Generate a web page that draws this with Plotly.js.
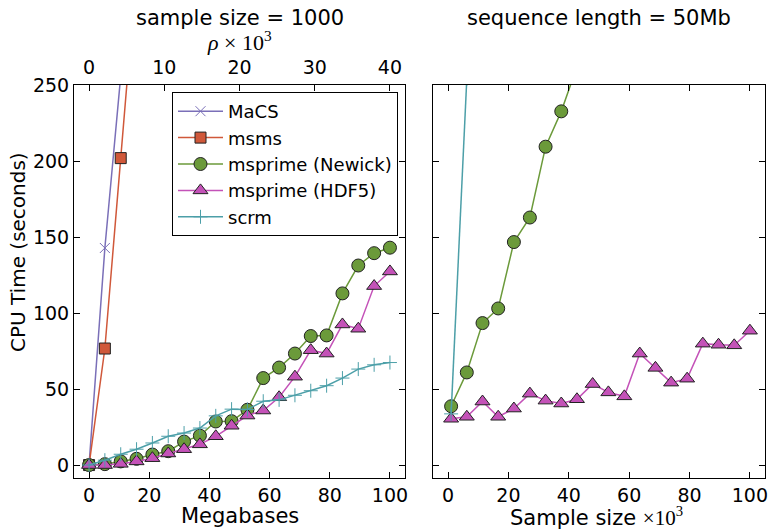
<!DOCTYPE html>
<html>
<head>
<meta charset="utf-8">
<script src="https://cdn.plot.ly/plotly-3.0.1.min.js"></script>
<style>html,body{margin:0;padding:0;background:#fff;}#chart{width:773px;height:532px;}</style>
</head>
<body>
<div id="chart"></div>
<script>
// ---- Left panel: sample size = 1000, x = Megabases ----
const megabases = [0, 5.26, 10.53, 15.79, 21.05, 26.32, 31.58, 36.84, 42.11, 47.37, 52.63, 57.89, 63.16, 68.42, 73.68, 78.95, 84.21, 89.47, 94.74, 100];
const macsMb = [0, 5.26, 10.53];
const macsTime = [0.5, 143, 256];
const msmsMb = [0, 5.26, 10.53, 15.79];
const msmsTime = [0.5, 77, 202, 327];
const newickLeft = [0.5, 1.1, 2.9, 4.6, 7.4, 9.6, 15.9, 19.8, 29.1, 29.3, 36.8, 57.6, 64.5, 73.7, 85.2, 85.6, 113.2, 131.5, 139.6, 143.2];
const hdf5Left = [0.5, 0.5, 1.3, 2.9, 5.0, 8.1, 10.9, 14.1, 19.4, 26.3, 33.0, 36.3, 45.0, 58.5, 75.9, 73.7, 92.8, 90.0, 118.0, 127.6];
const scrmLeft = [0.5, 3.7, 7.6, 10.9, 15.0, 19.4, 21.5, 24.8, 32.8, 37.2, 37.0, 42.4, 43.3, 46.3, 49.3, 52.6, 57.6, 63.5, 66.3, 67.8];
const rhoTicks = [0, 10, 20, 30, 40];

// ---- Right panel: sequence length = 50Mb, x = sample size x10^3 ----
const sampleK = [1, 6.2, 11.4, 16.6, 21.8, 27.1, 32.3, 37.5, 42.7, 47.9, 53.1, 58.4, 63.5, 68.7, 73.9, 79.2, 84.4, 89.6, 94.8, 100];
const newickRightK = [1, 6.2, 11.4, 16.6, 21.8, 27.1, 32.3, 37.5, 42.7, 47.9];
const newickRight = [39.1, 61.3, 93.7, 103.3, 146.9, 163.0, 209.5, 232.7, 262, 290];
const hdf5Right = [30.9, 32.2, 42.2, 32.2, 37.6, 47.4, 42.8, 40.9, 43.7, 53.7, 48.2, 45.6, 73.7, 64.3, 54.6, 57.2, 80.2, 79.5, 79.1, 88.7];
const scrmRightK = [1, 6.2];
const scrmRight = [34.1, 254];

const yTicks = [0, 50, 100, 150, 200, 250];
const xTicks = [0, 20, 40, 60, 80, 100];
const names = ["MaCS", "msms", "msprime (Newick)", "msprime (HDF5)", "scrm"];
const colors = {
  macs: "#7a6fb8", msms: "#d0583a", newick: "#6b9a3a", hdf5: "#c452b8", scrm: "#4c9fa8"
};
const F = "DejaVu Sans, sans-serif";

const edge = {color: "#222", width: 1};
const traces = [
  {x: macsMb, y: macsTime, name: names[0], mode: "lines+markers",
   line: {color: colors.macs, width: 1.5},
   marker: {symbol: "x-thin", size: 10, color: colors.macs, line: {color: colors.macs, width: 1}}},
  {x: msmsMb, y: msmsTime, name: names[1], mode: "lines+markers",
   line: {color: colors.msms, width: 1.5},
   marker: {symbol: "square", size: 11, color: colors.msms, line: edge}},
  {x: megabases, y: newickLeft, name: names[2], mode: "lines+markers",
   line: {color: colors.newick, width: 1.5},
   marker: {symbol: "circle", size: 13, color: colors.newick, line: edge}},
  {x: megabases, y: hdf5Left, name: names[3], mode: "lines+markers",
   line: {color: colors.hdf5, width: 1.5},
   marker: {symbol: "triangle-up", size: 13, color: colors.hdf5, line: edge}},
  {x: megabases, y: scrmLeft, name: names[4], mode: "lines+markers",
   line: {color: colors.scrm, width: 1.5},
   marker: {symbol: "cross-thin", size: 10, color: colors.scrm, line: {color: colors.scrm, width: 1}}},
  // right panel
  {x: newickRightK, y: newickRight, xaxis: "x2", yaxis: "y2", showlegend: false, mode: "lines+markers",
   line: {color: colors.newick, width: 1.5},
   marker: {symbol: "circle", size: 13, color: colors.newick, line: edge}},
  {x: sampleK, y: hdf5Right, xaxis: "x2", yaxis: "y2", showlegend: false, mode: "lines+markers",
   line: {color: colors.hdf5, width: 1.5},
   marker: {symbol: "triangle-up", size: 13, color: colors.hdf5, line: edge}},
  {x: scrmRightK, y: scrmRight, xaxis: "x2", yaxis: "y2", showlegend: false, mode: "lines+markers",
   line: {color: colors.scrm, width: 1.5},
   marker: {symbol: "cross-thin", size: 10, color: colors.scrm, line: {color: colors.scrm, width: 1}}},
  // invisible trace to activate the top rho axis
  {x: [0, 40], y: [null, null], xaxis: "x3", yaxis: "y", showlegend: false, hoverinfo: "skip", mode: "lines"}
];

const W = 773, H = 532;
const yDom = [1 - 478 / H, 1 - 85 / H];
const baseAx = {
  showline: true, linecolor: "#000", linewidth: 1, showgrid: false, zeroline: false,
  ticks: "inside", ticklen: 6, tickcolor: "#000", tickwidth: 1,
  tickfont: {family: F, size: 19, color: "#000"}
};
const ann = (text, x, y, extra) => Object.assign({
  text: text, xref: "paper", yref: "paper", x: x / W, y: 1 - y / H,
  xanchor: "center", yanchor: "middle", showarrow: false,
  font: {family: F, size: 21, color: "#000"}
}, extra || {});

const layout = {
  width: W, height: H,
  margin: {l: 0, r: 0, t: 0, b: 0},
  paper_bgcolor: "#fff", plot_bgcolor: "#fff",
  font: {family: F, color: "#000"},
  showlegend: true,
  legend: {
    x: 172 / W, y: 1 - 92 / H, xanchor: "left", yanchor: "top",
    bgcolor: "#fff", bordercolor: "#000", borderwidth: 1,
    font: {family: F, size: 18, color: "#000"},
    itemwidth: 45, tracegroupgap: 0
  },
  xaxis: Object.assign({}, baseAx, {
    domain: [74 / W, 405 / W], range: [-5, 105], mirror: true,
    tickvals: xTicks, anchor: "y"
  }),
  xaxis3: Object.assign({}, baseAx, {
    overlaying: "x", side: "top", anchor: "y", showline: false,
    range: [-2, 42], tickvals: rhoTicks, ticklabelstandoff: 6
  }),
  yaxis: Object.assign({}, baseAx, {
    domain: yDom, range: [-8, 250], mirror: "ticks",
    tickvals: yTicks, anchor: "x"
  }),
  xaxis2: Object.assign({}, baseAx, {
    domain: [433 / W, 765 / W], range: [-5, 105], mirror: "ticks",
    tickvals: xTicks, anchor: "y2"
  }),
  yaxis2: Object.assign({}, baseAx, {
    domain: yDom, range: [-8, 250], mirror: "ticks", showticklabels: false,
    tickvals: yTicks, anchor: "x2"
  }),
  annotations: [
    ann("sample size = 1000", (74 + 405) / 2, 18),
    ann("sequence length = 50Mb", (433 + 765) / 2, 18),
    ann("<i>ρ</i> × 10<sup>3</sup>", 240, 41, {font: {family: "Liberation Serif, serif", size: 22, color: "#000"}}),
    ann("CPU Time (seconds)", 18, 252, {textangle: -90, font: {family: F, size: 20, color: "#000"}}),
    ann("Megabases", 240, 516),
    ann("Sample size <span style='font-family:Liberation Serif'>×10<sup>3</sup></span>", 596, 516)
  ]
};

Plotly.newPlot("chart", traces, layout, {staticPlot: true, displayModeBar: false});
</script>
</body>
</html>
